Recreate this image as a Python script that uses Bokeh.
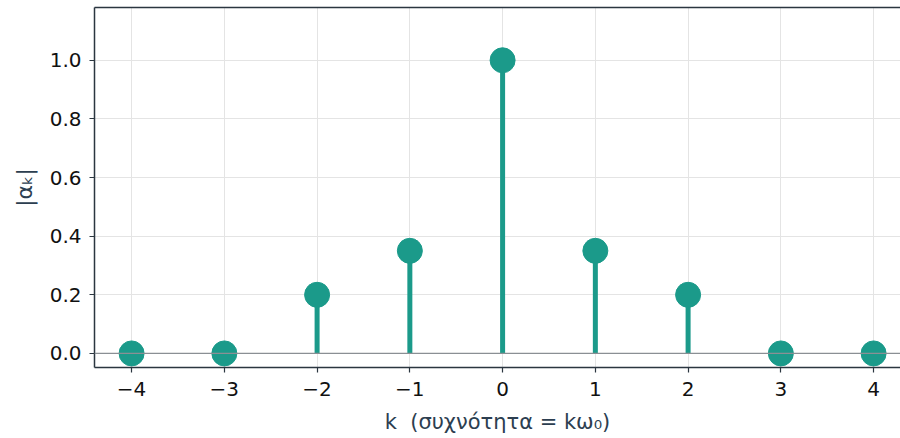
from bokeh.plotting import figure
from bokeh.models import LinearAxis, FixedTicker, Range1d, Span
from bokeh.embed import file_html
from bokeh.resources import INLINE

# Magnitude spectrum |a_k| of the Fourier series coefficients
k_values = [-4, -3, -2, -1, 0, 1, 2, 3, 4]
magnitudes = [0.0, 0.0, 0.2, 0.35, 1.0, 0.35, 0.2, 0.0, 0.0]
y_ticks = [0.0, 0.2, 0.4, 0.6, 0.8, 1.0]

TEAL = "#1b9a8a"
SPINE = "#2b3640"
FONT = "DejaVu Sans"

p = figure(
    frame_width=806, frame_height=360,
    min_border_left=94, min_border_right=0, min_border_top=7, min_border_bottom=71,
    x_range=Range1d(-4.4, 4.29), y_range=Range1d(-0.048, 1.18),
    output_backend="svg", toolbar_location=None,
    x_axis_label="k \u00a0(συχνότητα = kω₀)", y_axis_label="|αₖ|",
)
p.outline_line_color = None
p.background_fill_color = "white"
p.border_fill_color = "white"

xax = p.below[0]
yax = p.left[0]

for ax in (xax, yax):
    ax.axis_line_color = SPINE
    ax.axis_line_width = 1.5
    ax.major_tick_line_color = SPINE
    ax.major_tick_line_width = 1.2
    ax.major_tick_out = 5
    ax.major_tick_in = 0
    ax.minor_tick_line_color = None
    ax.major_label_text_font = FONT
    ax.major_label_text_font_size = "20px"
    ax.major_label_text_color = "#111111"
    ax.axis_label_text_font = FONT
    ax.axis_label_text_font_size = "21px"
    ax.axis_label_text_font_style = "normal"
    ax.axis_label_text_color = "#2c3e50"

xax.ticker = FixedTicker(ticks=k_values)
xax.major_label_overrides = {k: (str(k).replace("-", "\u2212")) for k in k_values}
xax.major_label_standoff = 9
xax.axis_label_standoff = 11
yax.ticker = FixedTicker(ticks=y_ticks)
yax.major_label_overrides = {t: f"{t:.1f}" for t in y_ticks}
yax.major_label_standoff = 8
yax.axis_label_standoff = 10
yax.axis_label_text_font_size = "22px"

# top spine only, no ticks or labels
top = LinearAxis(major_tick_line_color=None, minor_tick_line_color=None,
                 major_label_text_color=None, major_label_text_font_size="0px",
                 axis_line_color=SPINE, axis_line_width=1.5,
                 ticker=FixedTicker(ticks=[]))
p.add_layout(top, "above")

p.xgrid.grid_line_color = "#e4e4e4"
p.ygrid.grid_line_color = "#e4e4e4"
p.xgrid.ticker = FixedTicker(ticks=k_values)
p.ygrid.ticker = FixedTicker(ticks=y_ticks)

# baseline
p.add_layout(Span(location=0, dimension="width", line_color="#8a8f94", line_width=1.2))

# stems and heads
p.segment(x0=k_values, y0=[0] * len(k_values), x1=k_values, y1=magnitudes,
          line_color=TEAL, line_width=5)
p.scatter(k_values, magnitudes, size=25, fill_color=TEAL, line_color=TEAL)

open("out.html", "w").write(file_html(p, INLINE))
